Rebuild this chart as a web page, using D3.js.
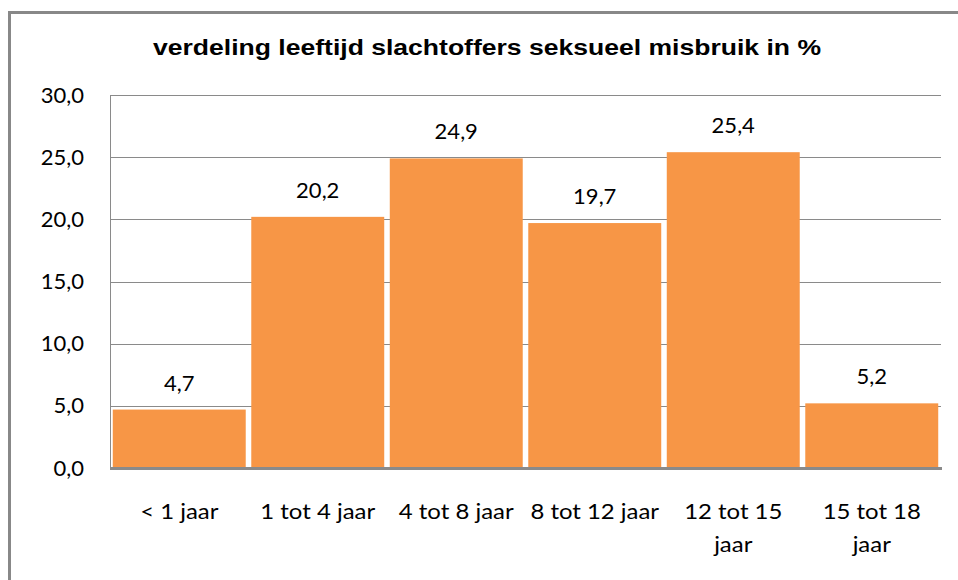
<!DOCTYPE html>
<html>
<head>
<meta charset="utf-8">
<script src="https://cdn.jsdelivr.net/npm/d3@7"></script>
<style>
  body { margin: 0; background: #fff; }
</style>
</head>
<body>
<div id="chart"></div>
<script>
// data
var categories = ["< 1 jaar", "1 tot 4 jaar", "4 tot 8 jaar", "8 tot 12 jaar", "12 tot 15 jaar", "15 tot 18 jaar"];
var values = [4.7, 20.2, 24.9, 19.7, 25.4, 5.2];
var yTicks = [0, 5, 10, 15, 20, 25, 30];
var title = "verdeling leeftijd slachtoffers seksueel misbruik in %";

const W = 958, H = 580;
const margin = {top: 95, right: 17, bottom: 112, left: 110},
    width = W - margin.left - margin.right,
    height = H - margin.top - margin.bottom;

const svg = d3.select("#chart")
  .append("svg")
    .attr("width", W)
    .attr("height", H);

// outer chart border (only top and left visible in the crop)
svg.append("path")
  .attr("d", "M9.5," + H + " V12.5 H" + W)
  .attr("fill", "none")
  .attr("stroke", "#888")
  .attr("stroke-width", 3);

// title is stretched wide in the original
svg.append("text")
  .attr("x", 487)
  .attr("y", 55)
  .attr("text-anchor", "middle")
  .attr("textLength", 668)
  .attr("lengthAdjust", "spacingAndGlyphs")
  .style("font-family", "'Liberation Sans', Arial, sans-serif")
  .style("font-weight", "bold")
  .style("font-size", "22px")
  .text(title);

const g = svg.append("g")
  .attr("transform", `translate(${margin.left},${margin.top})`);

const x = d3.scaleBand()
  .domain(categories)
  .range([0, width])
  .paddingInner(0.04)
  .paddingOuter(0.02);

const y = d3.scaleLinear()
  .domain([0, 30])
  .range([height, 0]);

const fmt = function(v) { return d3.format(".1f")(v).replace(".", ","); };

// gridlines
g.selectAll(".grid")
  .data(yTicks.slice(1))
  .enter().append("line")
    .attr("x1", 0)
    .attr("x2", width)
    .attr("y1", d => Math.round(y(d)) + 0.5)
    .attr("y2", d => Math.round(y(d)) + 0.5)
    .attr("stroke", "#8a8a8a")
    .attr("stroke-width", 1);

// left plot edge
g.append("line")
  .attr("x1", 0.5).attr("x2", 0.5)
  .attr("y1", 0).attr("y2", height)
  .attr("stroke", "#8a8a8a");

// y axis labels
const yAxis = g.append("g")
  .call(d3.axisLeft(y).tickValues(yTicks).tickFormat(fmt).tickSize(0).tickPadding(26));
yAxis.select(".domain").remove();
yAxis.selectAll("text")
  .style("font-family", "Lato, 'Open Sans', sans-serif")
  .style("font-size", "22px")
  .attr("fill", "#000");

// bars
g.selectAll(".bar")
  .data(values)
  .enter().append("rect")
    .attr("x", (d, i) => x(categories[i]))
    .attr("width", x.bandwidth())
    .attr("y", d => y(d))
    .attr("height", d => height - y(d))
    .attr("fill", "#F79646");

// value labels
g.selectAll(".val")
  .data(values)
  .enter().append("text")
    .attr("x", (d, i) => x(categories[i]) + x.bandwidth() / 2)
    .attr("y", d => y(d) - 19)
    .attr("text-anchor", "middle")
    .style("font-family", "Lato, 'Open Sans', sans-serif")
    .style("font-size", "22px")
    .text(d => fmt(d));

// x axis line
g.append("line")
  .attr("x1", 0).attr("x2", width + 1)
  .attr("y1", height + 0.5).attr("y2", height + 0.5)
  .attr("stroke", "#8a8a8a")
  .attr("stroke-width", 3);

// x axis labels, wrapped like the original
const xAxis = g.append("g")
  .attr("transform", `translate(0,${height})`)
  .call(d3.axisBottom(x).tickSize(0).tickPadding(0));
xAxis.select(".domain").remove();
xAxis.selectAll("text")
  .style("font-family", "Lato, 'Open Sans', sans-serif")
  .style("font-size", "21px")
  .attr("fill", "#000")
  .attr("y", 0)
  .attr("dy", null)
  .attr("transform", "scale(1.14,1)")
  .each(function(d) {
    const t = d3.select(this);
    const words = d.split(" ");
    let lines = [d];
    if (words.length > 3 && d.length > 13) {
      lines = [words.slice(0, 3).join(" "), words.slice(3).join(" ")];
    }
    t.text(null);
    lines.forEach(function(l, i) {
      t.append("tspan")
        .attr("x", 0)
        .attr("y", 51 + i * 33)
        .text(l);
    });
  });
</script>
</body>
</html>
